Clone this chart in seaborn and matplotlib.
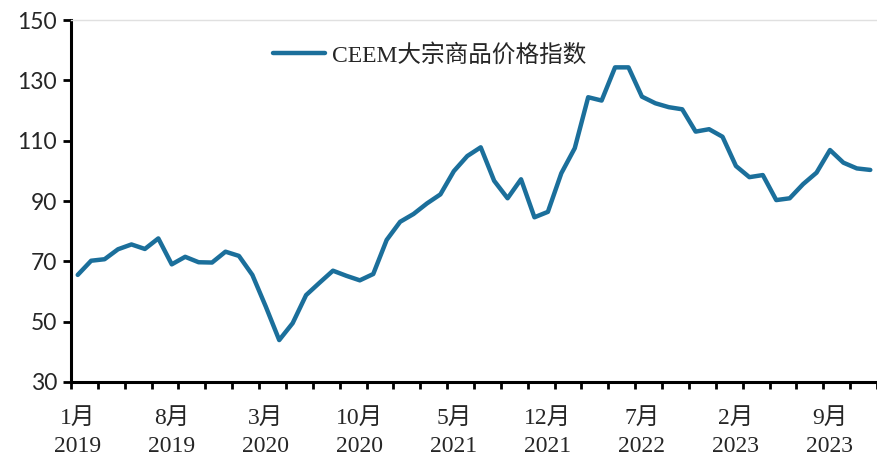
import pandas as pd
import matplotlib.pyplot as plt
import seaborn as sns

# CEEM commodity price index, monthly Jan 2019 - Dec 2023
months = pd.date_range("2019-01-01", periods=60, freq="MS")
ceem = [65.5, 70.2, 70.7, 74.0, 75.6, 74.1, 77.6, 69.0, 71.5, 69.7,
        69.6, 73.2, 71.8, 65.5, 55.0, 43.9, 49.5, 58.8, 62.9, 66.9,
        65.2, 63.7, 65.8, 77.1, 83.1, 85.7, 89.2, 92.2, 99.9, 104.9,
        107.8, 96.7, 90.9, 97.2, 84.6, 86.4, 99.2, 107.5, 124.4, 123.3,
        134.3, 134.3, 124.6, 122.4, 121.1, 120.4, 113.0, 113.8, 111.3, 101.6,
        97.9, 98.6, 90.3, 90.9, 95.6, 99.4, 106.9, 102.7, 100.8, 100.3]
tick_pos = [0, 7, 14, 21, 28, 35, 42, 49, 56]
tick_labels = ["1月\n2019", "8月\n2019", "3月\n2020", "10月\n2020", "5月\n2021",
               "12月\n2021", "7月\n2022", "2月\n2023", "9月\n2023"]
y_ticks = [30, 50, 70, 90, 110, 130, 150]

df = pd.DataFrame({"idx": range(len(months)), "value": ceem})

sns.set_style("white")
serif_cjk = ["Liberation Serif", "Noto Sans CJK SC"]

fig = plt.figure(figsize=(8.77, 4.58), dpi=100)
ax = fig.add_axes([71 / 877, 76 / 458, 806 / 877, 362 / 458])

sns.lineplot(data=df, x="idx", y="value", ax=ax, color="#1B6F9B",
             linewidth=3.2, label="CEEM大宗商品价格指数")

ax.set_xlim(-0.5, 59.5)
ax.set_ylim(30, 150)
ax.set_xlabel("")
ax.set_ylabel("")

ax.set_yticks(y_ticks)
ax.set_yticklabels([str(v) for v in y_ticks], fontsize=16.5, family="Lato")
ax.tick_params(axis="y", direction="out", length=6, width=2, color="black",
               left=True, pad=4)

ax.set_xticks(tick_pos)
ax.set_xticklabels(tick_labels, fontsize=17, family=serif_cjk, linespacing=1.4)
ax.set_xticks([i - 0.5 for i in range(0, 61, 2)], minor=True)
ax.tick_params(axis="x", which="major", length=0, pad=19)
ax.tick_params(axis="x", which="minor", direction="out", length=5, width=2,
               color="black", bottom=True)

for side in ["left", "bottom"]:
    ax.spines[side].set_color("black")
    ax.spines[side].set_linewidth(2.2)
ax.spines["top"].set_color("#e0e0e0")
ax.spines["top"].set_linewidth(1)
ax.spines["right"].set_visible(False)

ax.legend(loc="center", bbox_to_anchor=(0.445, 0.903), frameon=False,
          handlelength=2.2, handletextpad=0.3,
          prop={"family": serif_cjk, "size": 17})

plt.savefig("out.png", dpi=100)
